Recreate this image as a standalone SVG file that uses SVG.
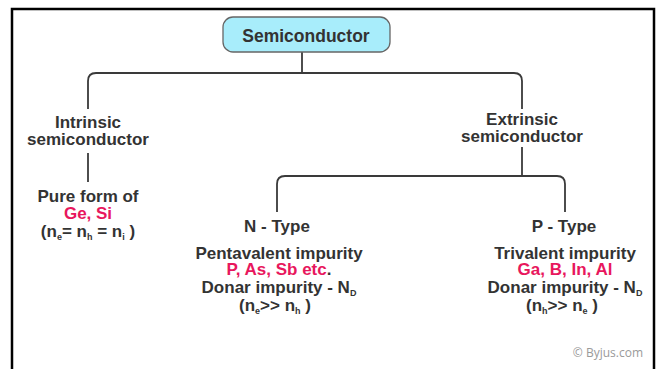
<svg xmlns="http://www.w3.org/2000/svg" width="660" height="369" viewBox="0 0 660 369">
<style>
  .t { font-family: "Liberation Sans", Arial, sans-serif; font-weight: bold; font-size: 17px; fill: #333; text-anchor: middle; }
  .r { fill: #e8175d; }
  .sub { font-size: 9px; }
  .ln { fill: none; stroke: #3a3a3a; stroke-width: 1.8; }
  .wm { font-family: "Open Sans", "Liberation Sans", sans-serif; font-size: 12px; fill: #9a9a9a; text-anchor: end; }
</style>
<rect width="660" height="369" fill="#fff"/>
<path d="M12 369 V9 H654 V369" fill="none" stroke="#000" stroke-width="2.5"/>

<g id="connectors">
  <path class="ln" d="M302 52 V73"/>
  <path class="ln" d="M88 109 V81 Q88 73 96 73 H514 Q522 73 522 81 V109"/>
  <path class="ln" d="M88 153 V182"/>
  <path class="ln" d="M522 147 V176"/>
  <path class="ln" d="M277 212 V184 Q277 176 285 176 H557 Q565 176 565 184 V212"/>
</g>

<g id="semiconductor">
  <rect x="223" y="17" width="167" height="35" rx="10" fill="#a8edfb" stroke="#666" stroke-width="1.3"/>
  <text class="t" x="306" y="41.5" style="font-size:17.5px">Semiconductor</text>
</g>

<g id="intrinsic">
  <text class="t" x="88" y="128">Intrinsic</text>
  <text class="t" x="88" y="145">semiconductor</text>
</g>

<g id="intrinsic-detail">
  <text class="t" x="88" y="202">Pure form of</text>
  <text class="t r" x="88" y="218.5">Ge, Si</text>
  <text class="t" x="88" y="236.5">(n<tspan class="sub" dy="3">e</tspan><tspan dy="-3">= n</tspan><tspan class="sub" dy="3">h</tspan><tspan dy="-3"> = n</tspan><tspan class="sub" dy="3">i</tspan><tspan dy="-3"> )</tspan></text>
</g>

<g id="extrinsic">
  <text class="t" x="522" y="125">Extrinsic</text>
  <text class="t" x="522" y="142">semiconductor</text>
</g>

<g id="n-type">
  <text class="t" x="277" y="232">N - Type</text>
  <text class="t" x="279" y="259">Pentavalent impurity</text>
  <text class="t" x="279" y="275"><tspan class="r">P, As, Sb etc</tspan>.</text>
  <text class="t" x="279" y="292.5">Donar impurity - N<tspan class="sub" dy="3">D</tspan></text>
  <text class="t" x="275" y="310.5">(n<tspan class="sub" dy="3">e</tspan><tspan dy="-3">&gt;&gt; n</tspan><tspan class="sub" dy="3">h</tspan><tspan dy="-3"> )</tspan></text>
</g>

<g id="p-type">
  <text class="t" x="564" y="232">P - Type</text>
  <text class="t" x="565" y="259">Trivalent impurity</text>
  <text class="t r" x="565" y="275">Ga, B, In, Al</text>
  <text class="t" x="565" y="292.5">Donar impurity - N<tspan class="sub" dy="3">D</tspan></text>
  <text class="t" x="562" y="310.5">(n<tspan class="sub" dy="3">h</tspan><tspan dy="-3">&gt;&gt; n</tspan><tspan class="sub" dy="3">e</tspan><tspan dy="-3"> )</tspan></text>
</g>

<text class="wm" x="643" y="357">© Byjus.com</text>
</svg>
